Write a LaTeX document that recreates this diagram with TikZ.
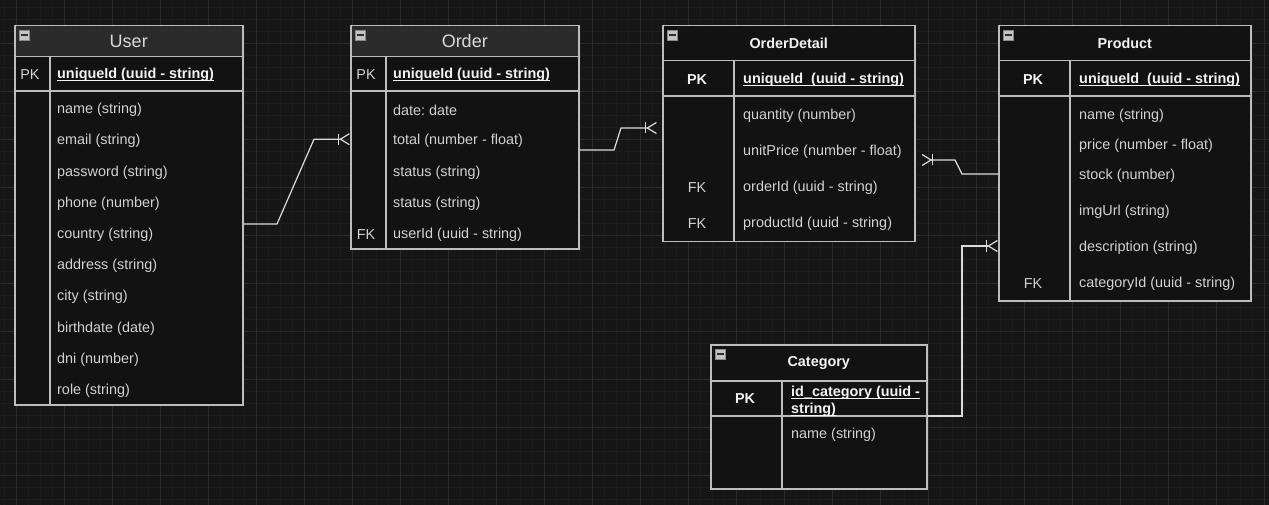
\documentclass[tikz,border=0pt]{standalone}
\usepackage{fontspec}
\setmainfont{Liberation Sans}
\usetikzlibrary{arrows.meta}
\frenchspacing
\definecolor{canvas}{HTML}{161616}
\definecolor{gridminor}{HTML}{1C1C1C}
\definecolor{gridmajor}{HTML}{2A2A2A}
\definecolor{body}{HTML}{121212}
\definecolor{headfill}{HTML}{2B2B2B}
\definecolor{edge}{HTML}{BDBDBD}
\definecolor{linkc}{HTML}{DCDCDC}
\definecolor{txt}{HTML}{D2D2D2}
\definecolor{titletxt}{HTML}{DADADA}
\definecolor{keytxt}{HTML}{F2F2F2}
\definecolor{foldfill}{HTML}{C4C4C4}
\definecolor{foldedge}{HTML}{8A8A8A}
\definecolor{foldbar}{HTML}{2E2E2E}
\newcommand{\fieldfont}{\fontsize{14.4}{17}\selectfont}
\newcommand{\titlefont}{\fontsize{18}{21}\selectfont}
\newcommand{\keyul}[1]{\setbox0=\hbox{#1}\rlap{\rule[-2.6pt]{\wd0}{1.1pt}}\box0}

\begin{document}
\begin{tikzpicture}[x=1pt, y=-1pt,
  minorgrid/.style={draw=gridminor, line width=0.6pt},
  majorgrid/.style={draw=gridmajor, line width=0.9pt},
  tbl/.style={draw=edge, fill=body, line width=1.5pt, anchor=north west, inner sep=0},
  headbox/.style={tbl, fill=headfill, text=titletxt, font=\titlefont},
  darkhead/.style={tbl, text=keytxt, font=\fieldfont\bfseries},
  splitline/.style={draw=edge, line width=1.5pt},
  fold/.style={draw=foldedge, fill=foldfill, line width=0.6pt, minimum size=10, inner sep=0, anchor=north west,
    path picture={\draw[foldbar, line width=1.8pt] ([xshift=1.5pt]path picture bounding box.west) -- ([xshift=-1.5pt]path picture bounding box.east);}},
  field/.style={anchor=west, inner sep=0, yshift=-2pt, text=txt, font=\fieldfont},
  keyfield/.style={field, text=keytxt, font=\fieldfont\bfseries},
  tag/.style={inner sep=0, yshift=-2pt, text=txt, font=\fieldfont},
  tagb/.style={tag, text=keytxt, font=\fieldfont\bfseries},
  rel/.style={draw=linkc, line width=1.2pt,
    -{Bar[width=11pt, line width=1.2pt] Straight Barb[reversed, length=9pt, width=11pt, line width=1.2pt]}}]
% canvas and grid
\fill[canvas] (0,0) rectangle (1269,505);
\useasboundingbox (0,0) rectangle (1269,505);
\foreach \gx in {4,16,...,1268} \draw[minorgrid] (\gx,0) -- (\gx,505);
\foreach \gy in {7,19,...,504} \draw[minorgrid] (0,\gy) -- (1269,\gy);
\foreach \gx in {16,64,...,1268} \draw[majorgrid] (\gx,0) -- (\gx,505);
\foreach \gy in {43,91,...,504} \draw[majorgrid] (0,\gy) -- (1269,\gy);

% User
\node[tbl, minimum width=228, minimum height=379] (user) at (14,25) {};
\node[headbox, minimum width=228, minimum height=31] (userHead) at (14,25) {User};
\draw[splitline] (14,91) -- (242,91);
\draw[splitline] (50,56) -- (50,404);
\node[fold] (userFold) at (19,30) {};
\node[tag] (userPk) at (30,73) {PK};
\node[keyfield] (userKey) at (57,73) {\keyul{uniqueId (uuid - string)}};
\node[field] (userName) at (57,108) {name (string)};
\node[field] (userEmail) at (57,139.2) {email (string)};
\node[field] (userPass) at (57,170.4) {password (string)};
\node[field] (userPhone) at (57,201.6) {phone (number)};
\node[field] (userCountry) at (57,232.8) {country (string)};
\node[field] (userAddress) at (57,264) {address (string)};
\node[field] (userCity) at (57,295.2) {city (string)};
\node[field] (userBirth) at (57,326.4) {birthdate (date)};
\node[field] (userDni) at (57,357.6) {dni (number)};
\node[field] (userRole) at (57,388.8) {role (string)};

% Order
\node[tbl, minimum width=228, minimum height=223] (order) at (350,25) {};
\node[headbox, minimum width=228, minimum height=31] (orderHead) at (350,25) {Order};
\draw[splitline] (350,91) -- (578,91);
\draw[splitline] (386,56) -- (386,248);
\node[fold] (orderFold) at (355,30) {};
\node[tag] (orderPk) at (366,73) {PK};
\node[keyfield] (orderKey) at (393,73) {\keyul{uniqueId (uuid - string)}};
\node[field] (orderDate) at (393,108) {date: date};
\node[field] (orderTotal) at (393,139.2) {total (number - float)};
\node[field] (orderStatus) at (393,170.4) {status (string)};
\node[field] (orderStatusB) at (393,201.6) {status (string)};
\node[field] (orderUser) at (393,232.8) {userId (uuid - string)};
\node[tag] (orderFk) at (366,232.8) {FK};

% OrderDetail
\node[tbl, minimum width=252, minimum height=216] (detail) at (662,25) {};
\node[darkhead, minimum width=252, minimum height=35] (detailHead) at (662,25) {OrderDetail};
\draw[splitline] (662,96) -- (914,96);
\draw[splitline] (734,60) -- (734,241);
\node[fold] (detailFold) at (667,30) {};
\node[tagb] (detailPk) at (697,78) {PK};
\node[keyfield] (detailKey) at (743,78) {\keyul{uniqueId~ (uuid - string)}};
\node[field] (detailQty) at (743,114) {quantity (number)};
\node[field] (detailPrice) at (743,150) {unitPrice (number - float)};
\node[field] (detailOrder) at (743,186) {orderId (uuid - string)};
\node[tag] (detailFkA) at (697,186) {FK};
\node[field] (detailProduct) at (743,222) {productId (uuid - string)};
\node[tag] (detailFkB) at (697,222) {FK};

% Product
\node[tbl, minimum width=252, minimum height=275] (product) at (998,25) {};
\node[darkhead, minimum width=252, minimum height=35] (productHead) at (998,25) {Product};
\draw[splitline] (998,96) -- (1250,96);
\draw[splitline] (1070,60) -- (1070,300);
\node[fold] (productFold) at (1003,30) {};
\node[tagb] (productPk) at (1033,78) {PK};
\node[keyfield] (productKey) at (1079,78) {\keyul{uniqueId~ (uuid - string)}};
\node[field] (productName) at (1079,114) {name (string)};
\node[field] (productPrice) at (1079,144) {price (number - float)};
\node[field] (productStock) at (1079,174) {stock (number)};
\node[field] (productImg) at (1079,210) {imgUrl (string)};
\node[field] (productDesc) at (1079,246) {description (string)};
\node[field] (productCat) at (1079,282) {categoryId (uuid - string)};
\node[tag] (productFk) at (1033,282) {FK};

% Category
\node[tbl, minimum width=216, minimum height=144] (category) at (710,344) {};
\node[darkhead, minimum width=216, minimum height=36] (categoryHead) at (710,344) {Category};
\draw[splitline] (710,416) -- (926,416);
\draw[splitline] (782,380) -- (782,488);
\node[fold] (categoryFold) at (715,349) {};
\node[tagb] (categoryPk) at (745,397) {PK};
\node[keyfield] (categoryKey) at (791,391) {\keyul{id\_category (uuid -}};
\node[keyfield] (categoryKeyB) at (791,408) {\keyul{string)}};
\node[field] (categoryName) at (791,433) {name (string)};

% relations
\draw[rel] (user.east |- 0,224) -- (277,224) -- (314,139.2) -- (order.west |- 0,139.2);
\draw[rel, shorten >=5pt] (order.east |- 0,150) -- (614,150) -- (621,128) -- (detail.west |- 0,128);
\draw[rel, shorten >=6pt] (product.west |- 0,174) -- (962,174) -- (955,160) -- (detail.east |- 0,160);
\draw[rel] (category.east |- 0,416) -- (962,416) -- (962,246) -- (product.west |- 0,246);
\end{tikzpicture}
\end{document}
